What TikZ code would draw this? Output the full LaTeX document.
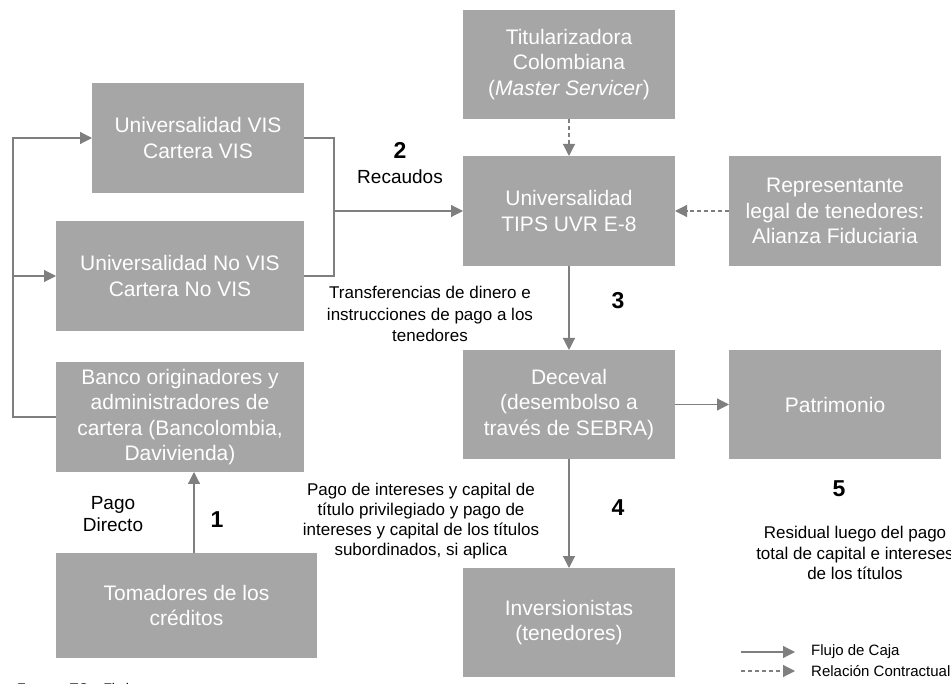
\documentclass[tikz,border=0pt]{standalone}
\usepackage{fontspec}
\setmainfont{Liberation Sans}
\usetikzlibrary{arrows.meta}
\definecolor{boxgray}{HTML}{A6A6A6}
\definecolor{linegray}{HTML}{7F7F7F}
\begin{document}
\begin{tikzpicture}[x=1pt,y=-1pt,
  box/.style={fill=boxgray,text=white,align=center,inner sep=0pt,outer sep=0pt,anchor=north west,font=\fontsize{21}{25.5}\selectfont},
  conn/.style={draw=linegray,line width=1.2pt},
  flow/.style={conn,-{Triangle[length=12pt,width=12pt]}},
  contract/.style={flow,dash pattern=on 4pt off 3pt},
  lbl/.style={align=center,inner sep=0pt,font=\fontsize{17}{20.5}\selectfont},
  num/.style={inner sep=0pt,font=\fontsize{23}{26}\selectfont\bfseries},
  leg/.style={anchor=west,inner sep=0pt,font=\fontsize{15}{18}\selectfont}]
\useasboundingbox (0,0) rectangle (951,684);

% boxes
\node[box,minimum width=212pt,minimum height=110pt] (vis) at (92,83) {Universalidad VIS\\Cartera VIS};
\node[box,minimum width=248pt,minimum height=110pt] (novis) at (56,221) {Universalidad No VIS\\Cartera No VIS};
\node[box,minimum width=248pt,minimum height=110pt] (banco) at (56,362) {Banco originadores y\\administradores de\\cartera (Bancolombia,\\Davivienda)};
\node[box,minimum width=261pt,minimum height=105pt] (toma) at (56,553) {Tomadores de los\\créditos};
\node[box,minimum width=212pt,minimum height=109pt] (titu) at (463,10) {Titularizadora\\Colombiana\\(\textit{Master Servicer})};
\node[box,minimum width=212pt,minimum height=110pt] (tips) at (463,156) {Universalidad\\TIPS UVR E-8};
\node[box,minimum width=212pt,minimum height=110pt] (rep) at (729,156) {Representante\\legal de tenedores:\\Alianza Fiduciaria};
\node[box,minimum width=212pt,minimum height=109pt] (dece) at (463,350) {Deceval\\(desembolso a\\través de SEBRA)};
\node[box,minimum width=212pt,minimum height=109pt] (patr) at (729,350) {Patrimonio};
\node[box,minimum width=212pt,minimum height=109pt] (inv) at (463,568) {Inversionistas\\(tenedores)};

% helper coordinates
\coordinate (lx) at (13,0);
\coordinate (rx) at (334,0);
\coordinate (ax) at (194,0);

% connectors
\draw[flow] (banco.west) -- (banco.west -| lx) |- (vis.west);
\draw[flow] (novis.west -| lx) -- (novis.west);
\draw[conn] (vis.east) -- (vis.east -| rx) -- (novis.east -| rx) -- (novis.east);
\draw[flow] (tips.west -| rx) -- (tips.west);
\draw[flow] (toma.north -| ax) -- (banco.south -| ax);
\draw[contract] (titu.south) -- (tips.north);
\draw[contract] (rep.west) -- (tips.east);
\draw[flow] (tips.south) -- (dece.north);
\draw[flow] (dece.east) -- (patr.west);
\draw[flow] (dece.south) -- (inv.north);

% labels
\node[num] (n2) at (400,150) {2};
\node[lbl,font=\fontsize{19}{22}\selectfont] (recaudos) at (400,177) {Recaudos};
\node[num] (n1) at (217,520) {1};
\node[lbl,font=\fontsize{19}{22}\selectfont] (pagodir) at (113,514) {Pago\\Directo};
\node[num] (n3) at (618,301) {3};
\node[lbl,font=\fontsize{17}{21.5}\selectfont] (transf) at (430,314) {Transferencias de dinero e\\instrucciones de pago a los\\tenedores};
\node[num] (n4) at (618,508) {4};
\node[lbl,font=\fontsize{17}{20}\selectfont] (pagoint) at (421,521) {Pago de intereses y capital de\\título privilegiado y pago de\\intereses y capital de los títulos\\subordinados, si aplica};
\node[num] (n5) at (839,489) {5};
\node[lbl] (resid) at (855,553) {Residual luego del pago\\total de capital e intereses\\de los títulos};

% legend
\coordinate (l1a) at (741,652);
\coordinate (l1b) at (795,652);
\coordinate (l2a) at (741,671);
\coordinate (l2b) at (795,671);
\draw[flow] (l1a) -- (l1b);
\draw[contract] (l2a) -- (l2b);
\node[leg] (legflujo) at (811,652) {Flujo de Caja};
\node[leg] (legrel) at (811,671) {Relación Contractual};

% source
\node[anchor=base west,inner sep=0pt,font=\fontsize{14}{16}\selectfont] (fuente) at (17,693) {Fuente: TC y Fitch};
\end{tikzpicture}
\end{document}
